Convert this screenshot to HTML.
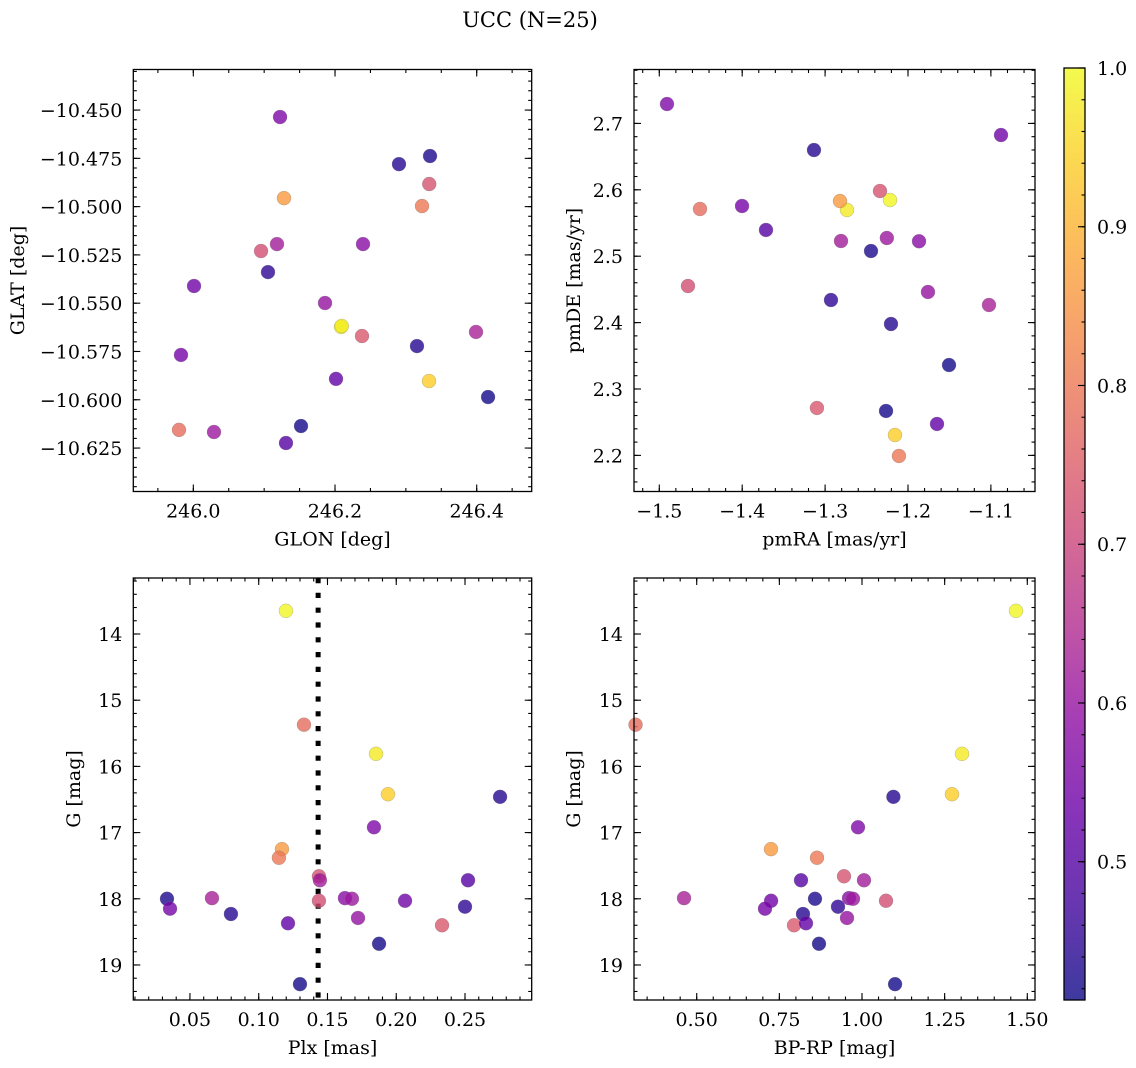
<!DOCTYPE html>
<html><head><meta charset="utf-8">
<style>
html,body{margin:0;padding:0;background:#fff;}
svg{display:block;font-family:"DejaVu Serif","Liberation Serif",serif;}
</style></head>
<body>
<svg id="fig" width="1136" height="1068" viewBox="0 0 1136 1068" xmlns="http://www.w3.org/2000/svg">
<defs>
<linearGradient id="plasmaGrad" x1="0" y1="1" x2="0" y2="0">
<stop offset="0" stop-color="#0d0887"/><stop offset="0.1" stop-color="#41049d"/><stop offset="0.2" stop-color="#6a00a8"/><stop offset="0.3" stop-color="#8f0da4"/><stop offset="0.4" stop-color="#b12a90"/><stop offset="0.5" stop-color="#cc4778"/><stop offset="0.6" stop-color="#e16462"/><stop offset="0.7" stop-color="#f2844b"/><stop offset="0.8" stop-color="#fca636"/><stop offset="0.9" stop-color="#fcce25"/><stop offset="1" stop-color="#f0f921"/>
</linearGradient>
</defs>
<text x="530" y="27" font-size="21" text-anchor="middle">UCC (N=25)</text>
</svg>
<script>
// ---- data (25 members) ----
const glon = [246.2085,246.2095,246.3327,245.9798,246.128,246.3228,246.333,246.0956,246.2381,246.2903,246.3341,246.1054,246.3157,246.416,246.152,246.1224,246.1181,246.1308,246.399,246.2395,246.0292,246.001,245.9826,246.1859,246.2014];
const glat = [-10.5623,-10.5618,-10.5903,-10.6156,-10.4956,-10.4997,-10.4883,-10.523,-10.567,-10.478,-10.4738,-10.5339,-10.5722,-10.5986,-10.6136,-10.4536,-10.5194,-10.6224,-10.5649,-10.5194,-10.6167,-10.5411,-10.5768,-10.5499,-10.5892];
const pmra = [-1.2217,-1.2736,-1.2157,-1.4509,-1.282,-1.2109,-1.2338,-1.4654,-1.3098,-1.3134,-1.2446,-1.2929,-1.2205,-1.1505,-1.2265,-1.4907,-1.2808,-1.3713,-1.1023,-1.1867,-1.2255,-1.0878,-1.4002,-1.1759,-1.165];
const pmde = [2.5846,2.5696,2.2307,2.5711,2.5831,2.1991,2.5982,2.4551,2.2714,2.6599,2.5078,2.434,2.3979,2.3361,2.2669,2.7292,2.5229,2.5395,2.4265,2.5225,2.5274,2.6825,2.5756,2.4461,2.2473];
const plx = [0.1198,0.1853,0.194,0.1329,0.1169,0.1147,0.1438,0.1438,0.2333,0.2755,0.0333,0.25,0.0798,0.1875,0.13,0.1838,0.1445,0.2522,0.066,0.1627,0.1678,0.2064,0.0355,0.1722,0.1213];
const gmag = [13.65,15.81,16.42,15.37,17.25,17.38,17.66,18.03,18.40,16.46,18.00,18.12,18.23,18.68,19.29,16.92,17.72,17.72,17.99,17.99,18.00,18.03,18.15,18.29,18.37];
const bprp = [1.4658,1.3025,1.2722,0.315,0.7247,0.8639,0.9456,1.0726,0.7943,1.095,0.8578,0.9274,0.8215,0.8699,1.10,0.9879,1.006,0.8155,0.4616,0.9607,0.9728,0.725,0.7066,0.9546,0.8306];
const prob = [0.995,0.98,0.94,0.78,0.86,0.80,0.73,0.72,0.74,0.44,0.43,0.45,0.44,0.42,0.42,0.56,0.62,0.50,0.63,0.58,0.61,0.54,0.55,0.60,0.52];
const plxMedian = 0.1432;
// ---- tick labels ----
const glonTicks = [246.0,246.2,246.4];
const glatTicks = [-10.450,-10.475,-10.500,-10.525,-10.550,-10.575,-10.600,-10.625];
const pmraTicks = [-1.5,-1.4,-1.3,-1.2,-1.1];
const pmdeTicks = [2.2,2.3,2.4,2.5,2.6,2.7];
const plxTicks = [0.05,0.10,0.15,0.20,0.25];
const gTicks = [14,15,16,17,18,19];
const bpTicks = [0.50,0.75,1.00,1.25,1.50];
const cbTicks = [0.5,0.6,0.7,0.8,0.9,1.0];
const cbMin = 0.4129, cbMax = 1.0;

const NS = "http://www.w3.org/2000/svg";
const svg = document.getElementById('fig');
function mk(tag, attrs, parent){ const e=document.createElementNS(NS,tag); for(const k in attrs) e.setAttribute(k,attrs[k]); (parent||svg).appendChild(e); return e; }
const stops=[[13,8,135],[65,4,157],[106,0,168],[143,13,164],[177,42,144],[204,71,120],[225,100,98],[242,132,75],[252,166,54],[252,206,37],[240,249,33]];
function plasma(p){ let t=(p-cbMin)/(cbMax-cbMin); t=Math.max(0,Math.min(1,t)); const s=t*10; const i=Math.min(9,Math.floor(s)); const f=s-i; const a=stops[i],b=stops[i+1]; return 'rgb('+[0,1,2].map(k=>Math.round(a[k]+(b[k]-a[k])*f)).join(',')+')'; }
function fmt(v,d){ return (v<0?'\u2212':'')+Math.abs(v).toFixed(d); }
const FS = 19;

function panel(o){
  const g=mk('g',{});
  
  
  const X=v=>o.x0+(v-o.xlim[0])/(o.xlim[1]-o.xlim[0])*(o.x1-o.x0);
  const Y=v=>o.y1-(v-o.ylim[0])/(o.ylim[1]-o.ylim[0])*(o.y1-o.y0);
  const tk=mk('g',{stroke:'#000','stroke-width':1.1},g);
  
  
  const lo=Math.min(...o.xlim),hi=Math.max(...o.xlim);
  for(let v=Math.ceil(lo/o.xminor-1e-9)*o.xminor; v<=hi; v+=o.xminor){ const x=X(v); mk('line',{x1:x,x2:x,y1:o.y1,y2:o.y1-3.5},tk); mk('line',{x1:x,x2:x,y1:o.y0,y2:o.y0+3.5},tk); }
  const ylo=Math.min(...o.ylim),yhi=Math.max(...o.ylim);
  for(let v=Math.ceil(ylo/o.yminor-1e-9)*o.yminor; v<=yhi; v+=o.yminor){ const y=Y(v); mk('line',{x1:o.x0,x2:o.x0+3.5,y1:y,y2:y},tk); mk('line',{x1:o.x1,x2:o.x1-3.5,y1:y,y2:y},tk); }
  o.xticks.forEach(v=>{ const x=X(v); mk('line',{x1:x,x2:x,y1:o.y1,y2:o.y1-7},tk); mk('line',{x1:x,x2:x,y1:o.y0,y2:o.y0+7},tk);
    const t=mk('text',{x:x,y:o.y1+26,'font-size':FS,'text-anchor':'middle'},g); t.textContent=fmt(v,o.xd);
      });
  o.yticks.forEach(v=>{ const y=Y(v); mk('line',{x1:o.x0,x2:o.x0+7,y1:y,y2:y},tk); mk('line',{x1:o.x1,x2:o.x1-7,y1:y,y2:y},tk);
    const t=mk('text',{x:o.x0-11,y:y+7,'font-size':FS,'text-anchor':'end'},g); t.textContent=fmt(v,o.yd);
      });
  if(o.vline!==undefined){ const x=X(o.vline); const l=mk('line',{x1:x,x2:x,y1:o.y0,y2:o.y1,stroke:'#000','stroke-width':5,'stroke-dasharray':'5.2,9.6'},g);
      }
  const pts=mk('g',{},g);
  
  
  o.xs.forEach((xv,i)=>{ const c=mk('circle',{cx:X(xv),cy:Y(o.ys[i]),r:7,fill:plasma(prob[i]),'fill-opacity':0.8,stroke:'#777','stroke-opacity':0.5,'stroke-width':0.5},pts);
      });
  const fr=mk('rect',{x:o.x0,y:o.y0,width:o.x1-o.x0,height:o.y1-o.y0,fill:'none',stroke:'#000','stroke-width':1.3},g);
   
  const xl=mk('text',{x:(o.x0+o.x1)/2,y:o.y1+54,'font-size':FS,'text-anchor':'middle'},g); xl.textContent=o.xlabel;
   
  const cy=(o.y0+o.y1)/2, cx=o.ylx;
  const yl=mk('text',{x:cx,y:cy,'font-size':FS,'text-anchor':'middle',transform:'rotate(-90 '+cx+' '+cy+')'},g); yl.textContent=o.ylabel;
   
}
const L0=133.3,L1=531.7,R0=634,R1=1035,T0=69.5,T1=491.5,B0=578,B1=1000;
panel({name:'glon-glat-panel',x0:L0,x1:L1,y0:T0,y1:T1,xlim:[245.9153,246.4776],ylim:[-10.6475,-10.429],xs:glon,ys:glat,xticks:glonTicks,yticks:glatTicks,xminor:0.05,yminor:0.005,xd:1,yd:3,xlabel:'GLON [deg]',ylabel:'GLAT [deg]',ylx:24});
panel({name:'pm-panel',x0:R0,x1:R1,y0:T0,y1:T1,xlim:[-1.5305,-1.0468],ylim:[2.1456,2.7812],xs:pmra,ys:pmde,xticks:pmraTicks,yticks:pmdeTicks,xminor:0.02,yminor:0.02,xd:1,yd:1,xlabel:'pmRA [mas/yr]',ylabel:'pmDE [mas/yr]',ylx:580});
panel({name:'plx-g-panel',x0:L0,x1:L1,y0:B0,y1:B1,xlim:[0.0088,0.2985],ylim:[19.529,13.154],xs:plx,ys:gmag,xticks:plxTicks,yticks:gTicks,xminor:0.01,yminor:0.2,xd:2,yd:0,xlabel:'Plx [mas]',ylabel:'G [mag]',ylx:80,vline:plxMedian});
panel({name:'cmd-panel',x0:R0,x1:R1,y0:B0,y1:B1,xlim:[0.3103,1.5233],ylim:[19.529,13.154],xs:bprp,ys:gmag,xticks:bpTicks,yticks:gTicks,xminor:0.05,yminor:0.2,xd:2,yd:0,xlabel:'BP-RP [mag]',ylabel:'G [mag]',ylx:580});
// colorbar
const cb=mk('g',{});


const CX0=1064,CX1=1085,CY0=68,CY1=1000;
const CY=v=>CY1-(v-cbMin)/(cbMax-cbMin)*(CY1-CY0);
mk('rect',{x:CX0,y:CY0,width:CX1-CX0,height:CY1-CY0,fill:'url(#plasmaGrad)','fill-opacity':0.8},cb);
for(let v=0.42; v<=1.0001; v+=0.02){ const y=CY(v); mk('line',{x1:CX1,x2:CX1-3.5,y1:y,y2:y,stroke:'#000','stroke-width':1.1},cb); }
cbTicks.forEach(v=>{ const y=CY(v); mk('line',{x1:CX1,x2:CX1-7,y1:y,y2:y,stroke:'#000','stroke-width':1.1},cb);
  const t=mk('text',{x:CX1+12,y:y+7,'font-size':FS},cb); t.textContent=v.toFixed(1);
    });
mk('rect',{x:CX0,y:CY0,width:CX1-CX0,height:CY1-CY0,fill:'none',stroke:'#000','stroke-width':1.3},cb);
</script>
</body></html>
